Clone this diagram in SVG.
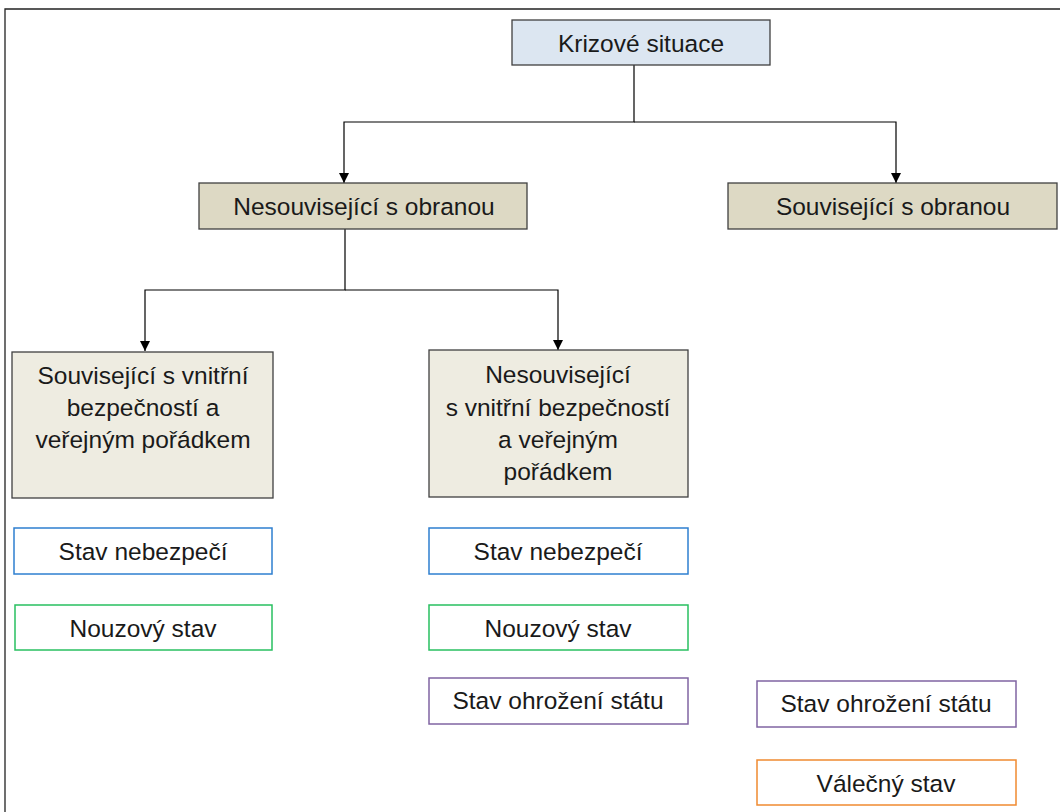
<svg xmlns="http://www.w3.org/2000/svg" width="1060" height="812" viewBox="0 0 1060 812">
<defs>
<marker id="ah" viewBox="0 0 10 10" refX="10" refY="5" markerWidth="10" markerHeight="10" markerUnits="userSpaceOnUse" orient="auto">
<path d="M0,0 L10,5 L0,10 z" fill="#000"/>
</marker>
<style>
text{font-family:"Liberation Sans",Arial,sans-serif;font-size:24.5px;fill:#1a1a1a;text-anchor:middle}
.box{stroke:#404040;stroke-width:1.3}
.top{fill:#dce6f1}
.mid{fill:#ddd9c4}
.low{fill:#eeece1}
.st{fill:#fff;stroke-width:1.5}
.blue{stroke:#2e7fd0}
.green{stroke:#28c060}
.purple{stroke:#8064a2}
.orange{stroke:#f08a30}
.conn{fill:none;stroke:#000;stroke-width:1.2}
</style>
</defs>
<rect width="1060" height="812" fill="#fff"/>
<path d="M5,812 V9 H1060" fill="none" stroke="#222" stroke-width="1.3"/>
<g id="connectors">
<path class="conn" d="M634,65 V122 H344 V183" marker-end="url(#ah)"/>
<path class="conn" d="M634,122 H896 V183" marker-end="url(#ah)"/>
<path class="conn" d="M345,229 V290 H145 V351" marker-end="url(#ah)"/>
<path class="conn" d="M345,290 H558 V350" marker-end="url(#ah)"/>
</g>
<g id="krizove"><rect class="box top" x="512" y="20" width="258" height="45"/><text x="641" y="52">Krizové situace</text></g>
<g id="nesouvisejici-obrana"><rect class="box mid" x="199" y="183" width="328" height="46"/><text x="364" y="215">Nesouvisející s obranou</text></g>
<g id="souvisejici-obrana"><rect class="box mid" x="728" y="183" width="329" height="46"/><text x="893" y="215">Související s obranou</text></g>
<g id="souvisejici-vnitrni"><rect class="box low" x="12" y="352" width="261" height="146"/>
<text x="143" y="384">Související s vnitřní</text><text x="143" y="416">bezpečností a</text><text x="143" y="448">veřejným pořádkem</text></g>
<g id="nesouvisejici-vnitrni"><rect class="box low" x="429" y="350" width="259" height="147"/>
<text x="558" y="383">Nesouvisející</text><text x="558" y="416">s vnitřní bezpečností</text><text x="558" y="448">a veřejným</text><text x="558" y="480">pořádkem</text></g>
<g id="l-nebezpeci"><rect class="st blue" x="14" y="528" width="258" height="46"/><text x="143" y="560">Stav nebezpečí</text></g>
<g id="l-nouzovy"><rect class="st green" x="15" y="605" width="257" height="45"/><text x="143" y="637">Nouzový stav</text></g>
<g id="m-nebezpeci"><rect class="st blue" x="429" y="528" width="259" height="46"/><text x="558" y="560">Stav nebezpečí</text></g>
<g id="m-nouzovy"><rect class="st green" x="429" y="605" width="259" height="45"/><text x="558" y="637">Nouzový stav</text></g>
<g id="m-ohrozeni"><rect class="st purple" x="429" y="678" width="259" height="46"/><text x="558" y="709">Stav ohrožení státu</text></g>
<g id="r-ohrozeni"><rect class="st purple" x="757" y="681" width="259" height="46"/><text x="886" y="712">Stav ohrožení státu</text></g>
<g id="r-valecny"><rect class="st orange" x="757" y="760" width="259" height="45"/><text x="886" y="792">Válečný stav</text></g>
</svg>
